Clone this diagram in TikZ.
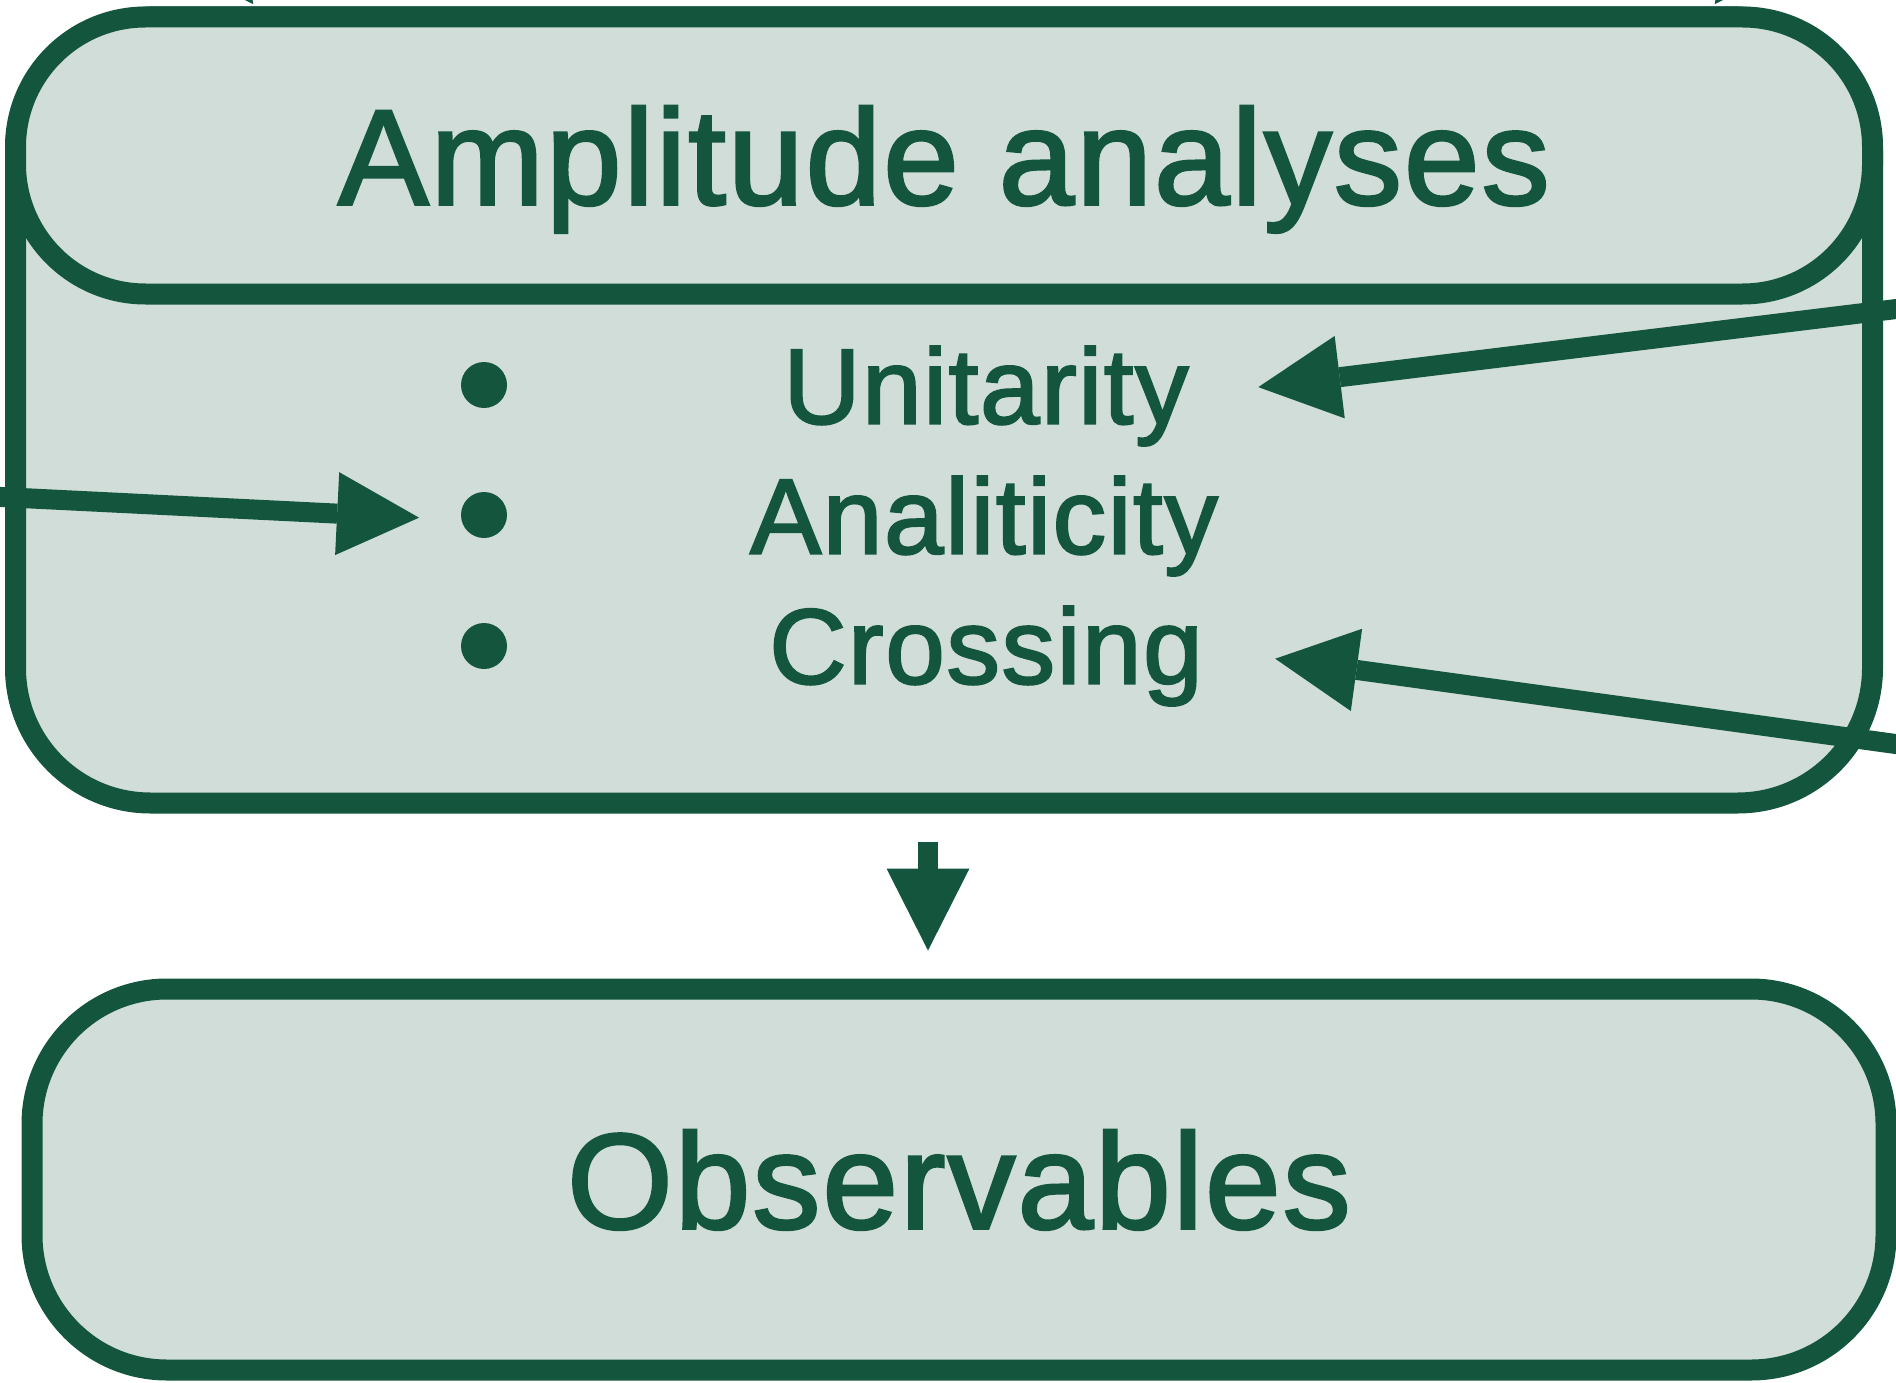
\documentclass[tikz,border=0pt]{standalone}
\usepackage{fontspec}
\usetikzlibrary{arrows.meta,backgrounds}
\newfontfamily\diafont[RawFeature={embolden=2},LetterSpace=1.5]{Liberation Sans}
\definecolor{dk}{HTML}{13563D}
\colorlet{lt}{dk!20!white}
\begin{document}
\begin{tikzpicture}[x=1pt,y=-1pt,
  box/.style={draw=dk, line width=21pt, fill=lt, text=dk, inner sep=0pt,
    font=\diafont\fontsize{136}{164}\selectfont, text height=98pt, text depth=0pt},
  item/.style={text=dk, inner sep=0pt, font=\diafont\fontsize{107}{130}\selectfont,
    text height=77.3pt, text depth=0pt},
  bul/.style={circle, fill=dk, minimum size=46pt, inner sep=0pt, outer sep=0pt},
  arr/.style={draw=dk, line width=20pt,
    -{Triangle[length=82pt,width=83pt,line width=0pt]}}]
\useasboundingbox (0,0) rectangle (1896,1383);
\clip (0,0) rectangle (1896,1383);

% containers
\node[box, minimum width=1857pt, minimum height=786pt, rounded corners=135pt] (big) at (944,410) {};
\node[box, minimum width=1857pt, minimum height=277pt, rounded corners=130pt] (hd) at (944,155.5) {Amplitude analyses};
\node[box, minimum width=1854pt, minimum height=381pt, rounded corners=135pt] (obs) at (959,1179.5) {Observables};

% list
\node[bul] (b1) at (484,385) {};
\node[bul] (b2) at (484,515) {};
\node[bul] (b3) at (484,646) {};
\node[item] (u) at (986,385) {Unitarity};
\node[item] (a) at (984,515) {Analiticity};
\node[item] (c) at (986,645) {Crossing};

% connectors
\coordinate (ax) at (928,0);
\draw[arr, shorten <=28pt, shorten >=28pt] (ax |- big.south) -- (ax |- obs.north);

\coordinate (s1) at (-100,492);
\draw[arr, shorten >=42.5pt] (s1) -- (b2.192);

\coordinate (s2) at (1996,296.8);
\draw[arr, shorten >=70pt] (s2) -- (u.-3.2);

\coordinate (s3) at (1996,757.8);
\draw[arr, shorten >=73pt] (s3) -- (c.-1.8);

% arrows entering from above (only their tips show)
\begin{scope}[on background layer]
\coordinate (s4) at (15,-316);
\coordinate (t4) at (255,4);
\draw[arr, shorten >=2.8pt] (s4) -- (t4 |- hd.north);
\coordinate (s5) at (1953,-316);
\coordinate (t5) at (1713,4);
\draw[arr, shorten >=2.8pt] (s5) -- (t5 |- hd.north);
\end{scope}
\end{tikzpicture}
\end{document}
